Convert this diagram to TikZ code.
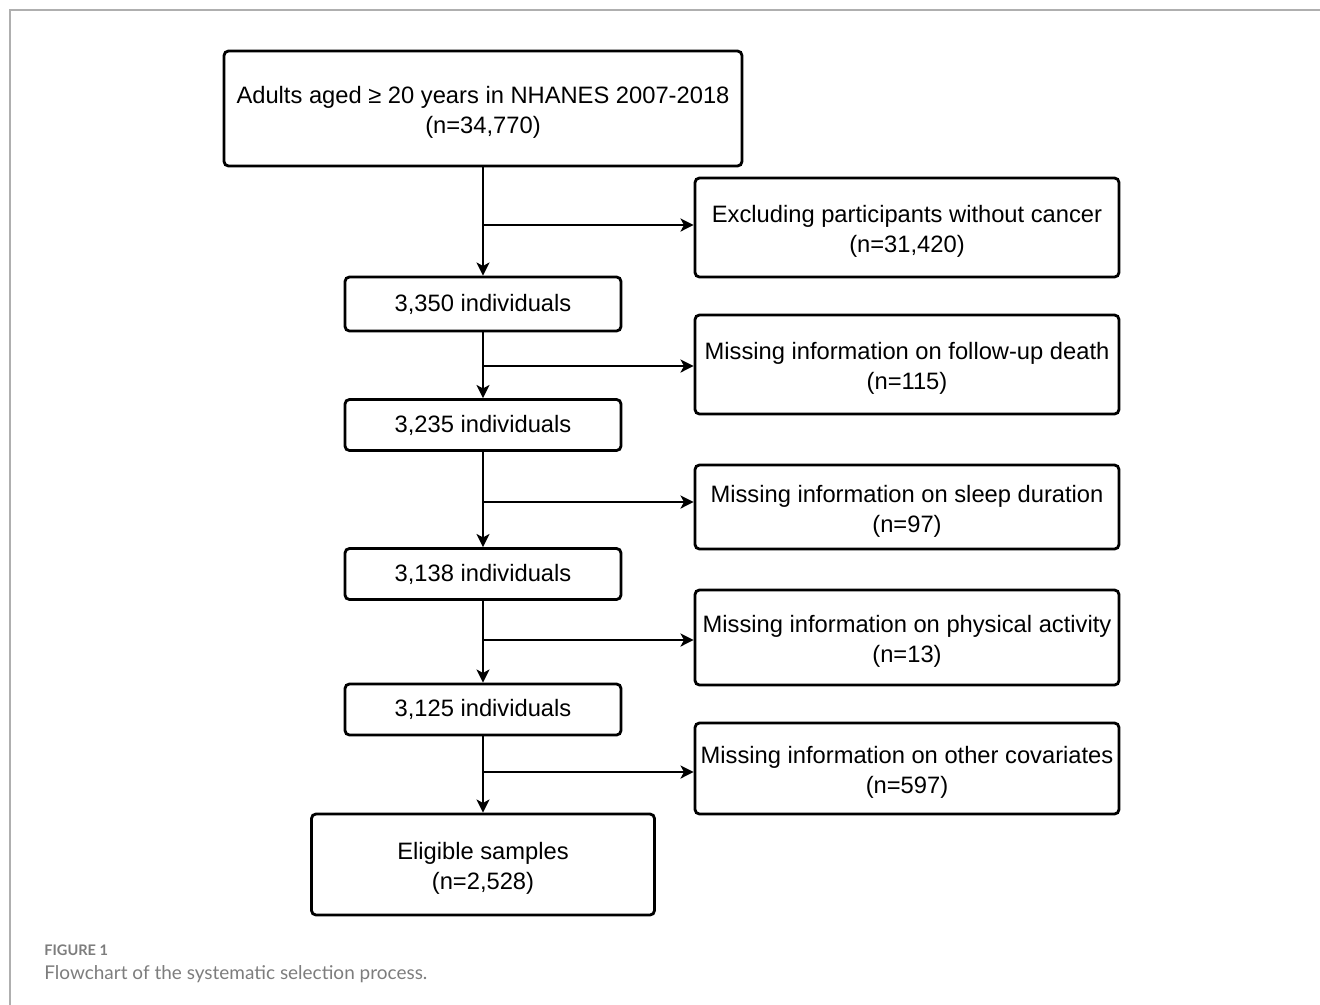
\documentclass[tikz,border=0pt]{standalone}
\usepackage{fontspec}
\setmainfont{Liberation Sans}
\newfontfamily\capfont{Lato}
\usetikzlibrary{arrows.meta,positioning}
\definecolor{framegray}{RGB}{175,175,175}
\definecolor{captiongray}{RGB}{125,125,125}
\newcommand{\toppad}{\rule{0pt}{14.5pt}}

\begin{document}
\begin{tikzpicture}[x=0.02cm,y=-0.02cm,
    flowbox/.style={draw, line width=1.6pt, rounded corners=2.5pt, align=center,
      inner sep=0pt, font=\fontsize{13.5}{17}\selectfont},
    countbox/.style={flowbox, minimum width=5.52cm, minimum height=1.02cm},
    exclbox/.style={flowbox, minimum width=8.48cm},
    flowarrow/.style={line width=1.1pt, -{Stealth[length=7.5pt, width=7.5pt, inset=2pt]}}]
        \useasboundingbox (0,0) rectangle (1320,1005);
        % Frame of the figure panel
        \draw[framegray, line width=1.1pt] (10,1005) -- (10,10) -- (1320,10);
        % Main column
        \node[flowbox, minimum width=10.36cm, minimum height=2.3cm] (adults) at (483,108.5)
          {\toppad Adults aged ≥ 20 years in NHANES 2007-2018\\(n=34,770)};
        \node[countbox, minimum height=1.08cm] (n3350) at (483,304) {3,350 individuals};
        \node[countbox] (n3235) at (483,425) {3,235 individuals};
        \node[countbox] (n3138) at (483,574) {3,138 individuals};
        \node[countbox] (n3125) at (483,709.5) {3,125 individuals};
        \node[flowbox, minimum width=6.86cm, minimum height=2.02cm] (eligible) at (483,864.5)
          {\toppad Eligible samples\\(n=2,528)};
        % Exclusion boxes
        \node[exclbox, minimum height=1.98cm] (nocancer) at (907,227.5)
          {\toppad Excluding participants without cancer\\(n=31,420)};
        \node[exclbox, minimum height=1.98cm] (nodeath) at (907,364.5)
          {\toppad Missing information on follow-up death\\(n=115)};
        \node[exclbox, minimum height=1.68cm] (nosleep) at (907,507)
          {\toppad Missing information on sleep duration\\(n=97)};
        \node[exclbox, minimum height=1.9cm] (noactivity) at (907,637.5)
          {\toppad Missing information on physical activity\\(n=13)};
        \node[exclbox, minimum height=1.82cm] (nocovar) at (907,768.5)
          {\toppad Missing information on other covariates\\(n=597)};
        % Vertical flow
        \draw[flowarrow] (adults.south) -- (n3350.north);
        \draw[flowarrow] (n3350.south) -- (n3235.north);
        \draw[flowarrow] (n3235.south) -- (n3138.north);
        \draw[flowarrow] (n3138.south) -- (n3125.north);
        \draw[flowarrow] (n3125.south) -- (eligible.north);
        % Branches to the exclusions
        \coordinate (b1) at (483,225);
        \coordinate (b2) at (483,366);
        \coordinate (b3) at (483,502);
        \coordinate (b4) at (483,640);
        \coordinate (b5) at (483,772);
        \draw[flowarrow] (b1) -- (b1 -| nocancer.west);
        \draw[flowarrow] (b2) -- (b2 -| nodeath.west);
        \draw[flowarrow] (b3) -- (b3 -| nosleep.west);
        \draw[flowarrow] (b4) -- (b4 -| noactivity.west);
        \draw[flowarrow] (b5) -- (b5 -| nocovar.west);
        % Caption
        \node[anchor=base west, inner sep=0pt, text=captiongray,
          font=\capfont\bfseries\fontsize{8.3}{10}\selectfont] (figlabel) at (44,955) {FIGURE 1};
        \node[anchor=base west, inner sep=0pt, text=captiongray,
          font=\capfont\fontsize{10.8}{12}\selectfont] (figcaption) at (44,979)
          {Flowchart of the systematic selection process.};
\end{tikzpicture}
\end{document}
